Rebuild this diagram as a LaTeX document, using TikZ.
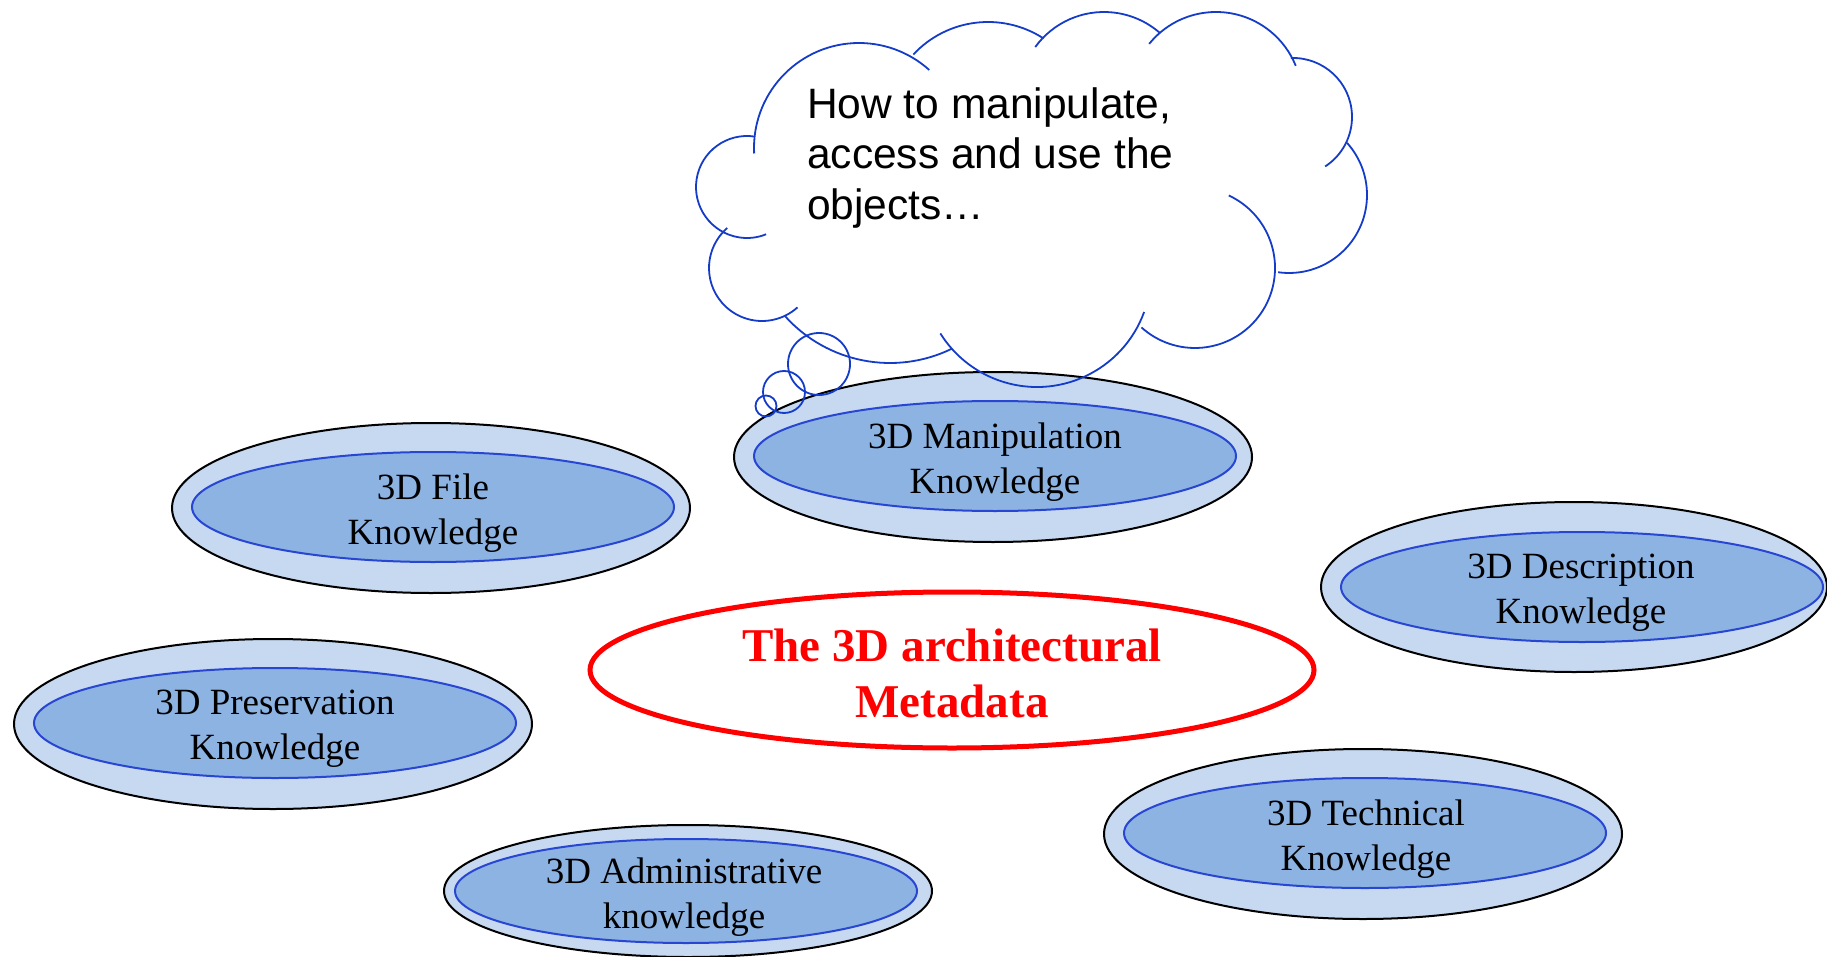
\documentclass[tikz,border=0pt]{standalone}
\usepackage{fontspec}
\setmainfont{Liberation Serif}
\newfontfamily\cloudfont{Liberation Sans}
\usetikzlibrary{shapes.geometric}

\definecolor{ringfill}{RGB}{198,217,240}
\definecolor{corefill}{RGB}{141,179,226}
\definecolor{coreline}{RGB}{40,70,210}
\definecolor{cloudline}{RGB}{20,60,200}
\definecolor{hubred}{RGB}{255,0,0}

% one lobe of the thought cloud: centre x, centre y (downwards), radius, start, end
\newcommand\cloudlobe[5]{%
  \draw[lobe] ([shift={(#4:#3)}]#1,-#2) arc[start angle=#4, end angle=#5, radius=#3];}

\begin{document}
\begin{tikzpicture}[x=1pt,y=1pt,
  ring/.style={ellipse, draw=black, line width=2pt, fill=ringfill,
    minimum width=518pt, minimum height=170pt, inner sep=0pt},
  core/.style={ellipse, draw=coreline, line width=2pt, fill=corefill,
    minimum width=482pt, minimum height=110pt, inner sep=0pt},
  label/.style={align=center, inner sep=0pt, font=\fontsize{37}{45}\selectfont},
  hub/.style={ellipse, draw=hubred, line width=5pt, fill=white,
    minimum width=724pt, minimum height=156pt, inner sep=0pt},
  hubtext/.style={align=center, inner sep=0pt, text=hubred,
    font=\fontsize{47}{56}\selectfont\bfseries},
  lobe/.style={draw=cloudline, line width=1.8pt},
  thought/.style={align=left, inner sep=0pt, font=\cloudfont\fontsize{42.5}{50.5}\selectfont}]

\useasboundingbox (0,0) rectangle (1827,-957);

% knowledge rings
\node[ring] (fileR) at (431,-508) {};
\node[core] (fileC) at (433,-507) {};
\node[label] (fileT) at (433,-513) {3D File\\Knowledge};

\node[ring] (manR) at (993,-457) {};
\node[core] (manC) at (995,-456) {};
\node[label] (manT) at (995,-462) {3D Manipulation\\Knowledge};

\node[ring, minimum width=506pt] (descR) at (1574,-587) {};
\node[core] (descC) at (1582,-587) {};
\node[label] (descT) at (1581,-593) {3D Description\\Knowledge};

\node[ring] (presR) at (273,-724) {};
\node[core] (presC) at (275,-723) {};
\node[label] (presT) at (275,-729) {3D Preservation\\Knowledge};

\node[ring] (techR) at (1363,-834) {};
\node[core] (techC) at (1365,-833) {};
\node[label] (techT) at (1366,-839) {3D Technical\\Knowledge};

\node[ring, minimum width=488pt, minimum height=132pt] (admR) at (688,-891) {};
\node[core, minimum width=462pt, minimum height=104pt] (admC) at (686,-891) {};
\node[label] (admT) at (684,-897) {3D Administrative\\knowledge};

% central hub
\node[hub] (hub) at (952,-670) {};
\node[hubtext] (hubT) at (952,-673) {The 3D architectural\\Metadata};

% thought cloud
\cloudlobe{747}{187}{51}{81}{292}
\cloudlobe{762}{268}{53}{131}{312}
\cloudlobe{890}{222}{141}{222}{296}
\cloudlobe{1037}{273}{114}{-20}{-148}
\cloudlobe{1195}{268}{80}{65}{-132}
\cloudlobe{1289}{195}{78}{42}{-98}
\cloudlobe{1293}{117}{59}{92}{-57}
\cloudlobe{1216}{98}{86}{141}{22}
\cloudlobe{1104}{97}{85}{144}{49}
\cloudlobe{988}{124}{102}{137}{57}
\cloudlobe{859}{148}{105}{183}{48}

% trailing bubbles
\draw[lobe] (819,-364) circle[radius=31];
\draw[lobe] (784,-392) circle[radius=21];
\draw[lobe] (766,-406) circle[radius=10.5];

\node[thought, anchor=west] (thoughtT) at (807,-158)
  {How to manipulate,\\access and use the\\objects\ldots};
\end{tikzpicture}
\end{document}
